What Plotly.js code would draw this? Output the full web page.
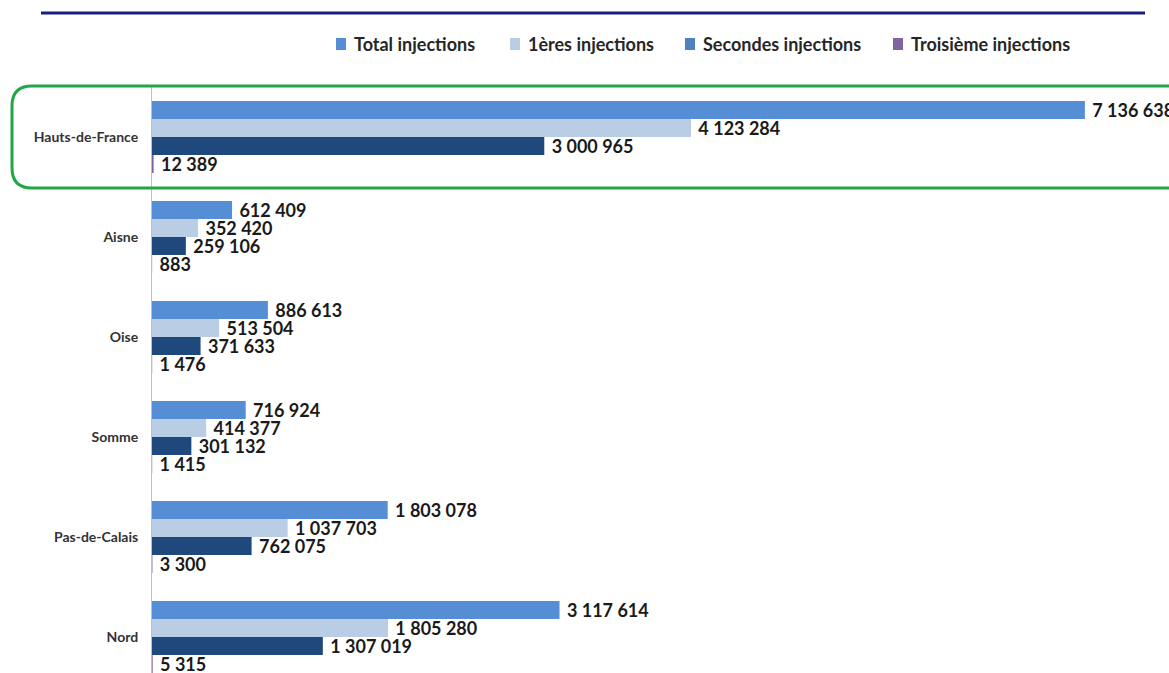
<!DOCTYPE html>
<html>
<head>
<meta charset="utf-8">
<script src="https://cdn.plot.ly/plotly-3.0.1.min.js"></script>
<style>
html,body{margin:0;padding:0;background:#fff;}
#chart{width:1169px;height:673px;}
</style>
</head>
<body>
<div id="chart"></div>
<script>
const categories = ["Hauts-de-France", "Aisne", "Oise", "Somme", "Pas-de-Calais", "Nord"];
const seriesNames = ["Total injections", "1ères injections", "Secondes injections", "Troisième injections"];
const totalInjections = [7136638, 612409, 886613, 716924, 1803078, 3117614];
const premieresInjections = [4123284, 352420, 513504, 414377, 1037703, 1805280];
const secondesInjections = [3000965, 259106, 371633, 301132, 762075, 1307019];
const troisiemeInjections = [12389, 883, 1476, 1415, 3300, 5315];

const barColors = ["#558ED5", "#B9CDE5", "#1F497D", "#8064A2"];
const legendColors = ["#558ED5", "#B9CDE5", "#4F81BD", "#8064A2"];
const seriesValues = [totalInjections, premieresInjections, secondesInjections, troisiemeInjections];

const FONT = "Lato, 'Open Sans', sans-serif";
const valueFont = {family: FONT, size: 18, color: "#1a1a1a", weight: 700};

const traces = seriesValues.map((vals, i) => ({
  type: "bar",
  orientation: "h",
  name: seriesNames[i],
  y: categories,
  x: vals,
  marker: {color: barColors[i], line: {width: 0}},
  texttemplate: " %{x:,}",
  textposition: "outside",
  constraintext: "none",
  cliponaxis: false,
  textfont: valueFont,
  showlegend: false,
  hoverinfo: "skip"
}));

const W = 1017, H = 586, L = 152, T = 87;
const px = x => (x - L) / W;
const py = y => (T + H - y) / H;
const x0 = px(12), x1 = px(1190), yT = py(86), yB = py(188);
const rx = 20 / W, ry = 20 / H;
const boxPath = `M ${x0 + rx},${yT} L ${x1 - rx},${yT} Q ${x1},${yT} ${x1},${yT - ry} L ${x1},${yB + ry} Q ${x1},${yB} ${x1 - rx},${yB} L ${x0 + rx},${yB} Q ${x0},${yB} ${x0},${yB + ry} L ${x0},${yT - ry} Q ${x0},${yT} ${x0 + rx},${yT} Z`;

// legend drawn as annotations + squares (positions in pixels of the page)
const legendTextStarts = [352, 526, 701, 909];
const legendY = 44;
const legendAnnotations = seriesNames.map((n, i) => ({
  xref: "paper", yref: "paper",
  x: px(legendTextStarts[i]), y: py(legendY),
  xanchor: "left", yanchor: "middle",
  text: n, showarrow: false,
  font: {family: FONT, size: 18, color: "#262626", weight: 700}
}));
const legendSquares = seriesNames.map((n, i) => ({
  type: "rect", xref: "paper", yref: "paper",
  x0: px(legendTextStarts[i] - 16), x1: px(legendTextStarts[i] - 6),
  y0: py(legendY + 6), y1: py(legendY - 6),
  fillcolor: legendColors[i], line: {width: 0}
}));

const layout = {
  width: 1169,
  height: 673,
  margin: {l: L, r: 0, t: T, b: 0, pad: 0},
  paper_bgcolor: "#ffffff",
  plot_bgcolor: "#ffffff",
  separators: ", ",
  barmode: "group",
  bargap: 0.28,
  bargroupgap: 0,
  showlegend: false,
  xaxis: {
    range: [0, 7780000],
    visible: false,
    showgrid: false,
    zeroline: false,
    fixedrange: true
  },
  yaxis: {
    type: "category",
    categoryorder: "array",
    categoryarray: categories,
    range: [5.36, -0.5],
    showline: true,
    linecolor: "#bfbfbf",
    linewidth: 1,
    showgrid: false,
    zeroline: false,
    ticks: "",
    ticklabelstandoff: 10,
    tickfont: {family: FONT, size: 14, color: "#333333", weight: 700},
    fixedrange: true
  },
  annotations: legendAnnotations,
  shapes: [
    {type: "line", xref: "paper", yref: "paper", x0: px(41), x1: px(1145), y0: py(13), y1: py(13), line: {color: "#1c1c84", width: 3}},
    {type: "path", xref: "paper", yref: "paper", path: boxPath, line: {color: "#22a64a", width: 3}, fillcolor: "rgba(0,0,0,0)"}
  ].concat(legendSquares)
};

Plotly.newPlot("chart", traces, layout, {displayModeBar: false, staticPlot: true});
</script>
</body>
</html>
